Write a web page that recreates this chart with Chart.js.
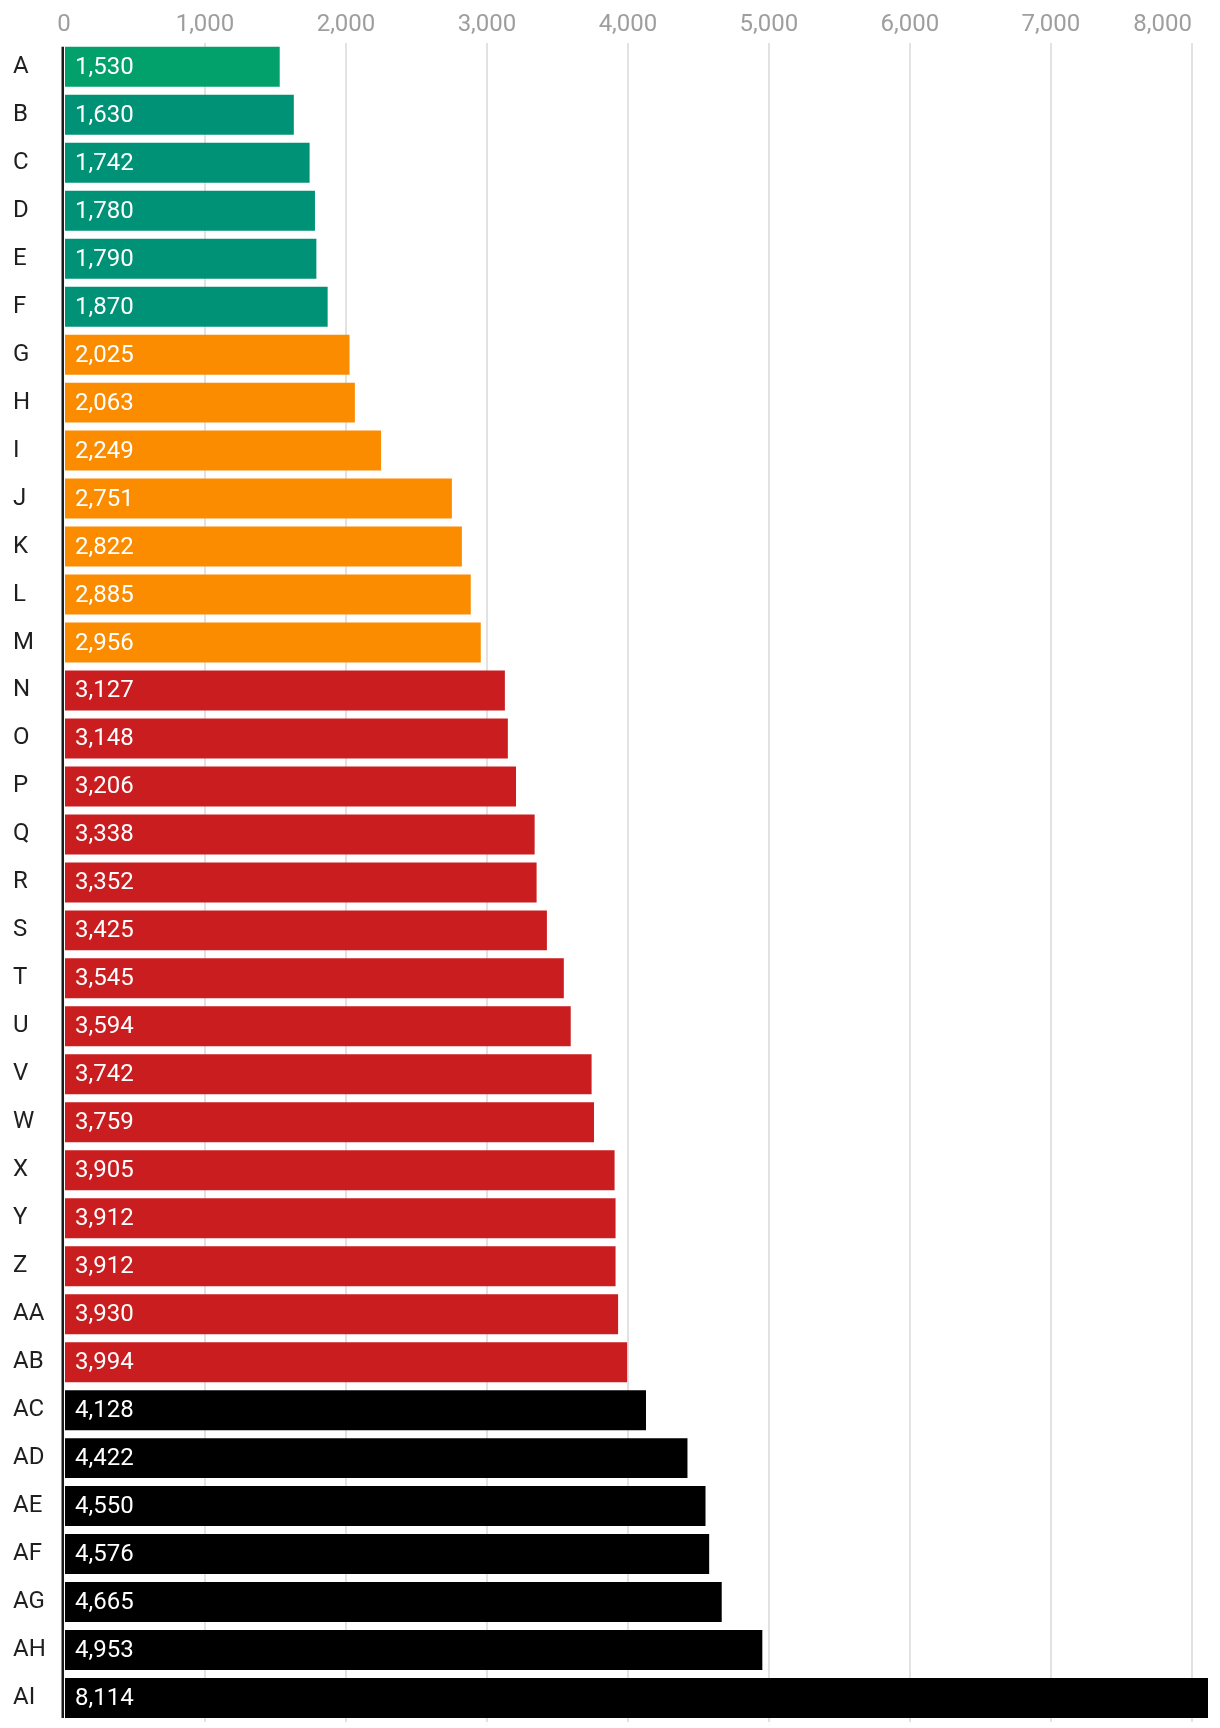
<!DOCTYPE html>
<html>
<head>
<meta charset="utf-8">
<script src="https://cdn.jsdelivr.net/npm/chart.js@4.4.1/dist/chart.umd.min.js"></script>
<style>
  html, body { margin: 0; padding: 0; background: #ffffff; }
  #wrap { width: 1220px; height: 1728px; position: relative; }
</style>
</head>
<body>
<div id="wrap"><canvas id="c"></canvas></div>
<script>
const categories = ['A','B','C','D','E','F','G','H','I','J','K','L','M','N','O','P','Q','R','S','T','U','V','W','X','Y','Z','AA','AB','AC','AD','AE','AF','AG','AH','AI'];
const values = [1530,1630,1742,1780,1790,1870,2025,2063,2249,2751,2822,2885,2956,3127,3148,3206,3338,3352,3425,3545,3594,3742,3759,3905,3912,3912,3930,3994,4128,4422,4550,4576,4665,4953,8114];
const groups = ['g1','g2','g2','g2','g2','g2','o','o','o','o','o','o','o','r','r','r','r','r','r','r','r','r','r','r','r','r','r','r','k','k','k','k','k','k','k'];
const xTicks = [0, 1000, 2000, 3000, 4000, 5000, 6000, 7000, 8000];

const groupColors = { g1: '#02a06b', g2: '#009276', o: '#fb8c00', r: '#c91d1f', k: '#000000' };
const fmt = v => Number(v).toLocaleString('en-US');

const valueLabels = {
  id: 'valueLabels',
  afterDatasetsDraw(chart) {
    const ctx = chart.ctx;
    const meta = chart.getDatasetMeta(0);
    ctx.save();
    ctx.fillStyle = '#ffffff';
    ctx.font = '24px Roboto';
    ctx.textAlign = 'left';
    ctx.textBaseline = 'middle';
    meta.data.forEach((bar, i) => {
      const p = bar.getProps(['x', 'y', 'base'], true);
      ctx.fillText(fmt(values[i]), p.base + 10, p.y + 1);
    });
    ctx.restore();
  }
};

const axisTweaks = {
  id: 'axisTweaks',
  beforeDraw(chart) {
    const sx = chart.scales.x;
    const items = sx.getLabelItems();
    if (items.length) {
      const last = items[items.length - 1];
      last.options.textAlign = 'right';
    }
  },
  afterDatasetsDraw(chart) {
    const ctx = chart.ctx;
    const sx = chart.scales.x;
    const meta = chart.getDatasetMeta(0);
    const first = meta.data[0].getProps(['y', 'height'], true);
    const last = meta.data[meta.data.length - 1].getProps(['y', 'height'], true);
    const x0 = sx.getPixelForValue(0);
    ctx.save();
    ctx.strokeStyle = '#1a1a1a';
    ctx.lineWidth = 2.5;
    ctx.beginPath();
    ctx.moveTo(x0 - 1.25, first.y - first.height / 2);
    ctx.lineTo(x0 - 1.25, last.y + last.height / 2);
    ctx.stroke();
    ctx.restore();
  }
};

new Chart(document.getElementById('c'), {
  type: 'bar',
  data: {
    labels: categories,
    datasets: [{
      data: values,
      backgroundColor: groups.map(g => groupColors[g]),
      borderWidth: 0,
      categoryPercentage: 1,
      barPercentage: 40 / 48
    }]
  },
  options: {
    indexAxis: 'y',
    responsive: true,
    maintainAspectRatio: false,
    animation: false,
    devicePixelRatio: 1,
    layout: { padding: { top: 8, left: 13, right: 12, bottom: 6 } },
    plugins: { legend: { display: false }, tooltip: { enabled: false } },
    scales: {
      x: {
        position: 'top',
        bounds: 'data',
        beginAtZero: true,
        ticks: {
          color: '#9e9e9e',
          font: { family: 'Roboto', size: 24 },
          padding: 3,
          callback: v => fmt(v)
        },
        grid: {
          color: ctx => (ctx.tick && ctx.tick.value === 0) ? 'rgba(0,0,0,0)' : '#e2e2e2',
          lineWidth: 2,
          drawTicks: false
        },
        border: { display: false },
        afterBuildTicks(scale) {
          scale.ticks = xTicks.filter(v => v <= scale.max).map(v => ({ value: v }));
        },
        afterFit(scale) { scale.paddingRight = 0; scale.paddingLeft = 0; }
      },
      y: {
        ticks: {
          color: '#1f1f1f',
          font: { family: 'Roboto', size: 24 },
          crossAlign: 'far',
          padding: 0,
          autoSkip: false
        },
        grid: { display: false, drawTicks: false },
        border: { display: false },
        afterFit(scale) { scale.width = 51; scale.paddingTop = 0; scale.paddingBottom = 0; }
      }
    }
  },
  plugins: [valueLabels, axisTweaks]
});
</script>
</body>
</html>
